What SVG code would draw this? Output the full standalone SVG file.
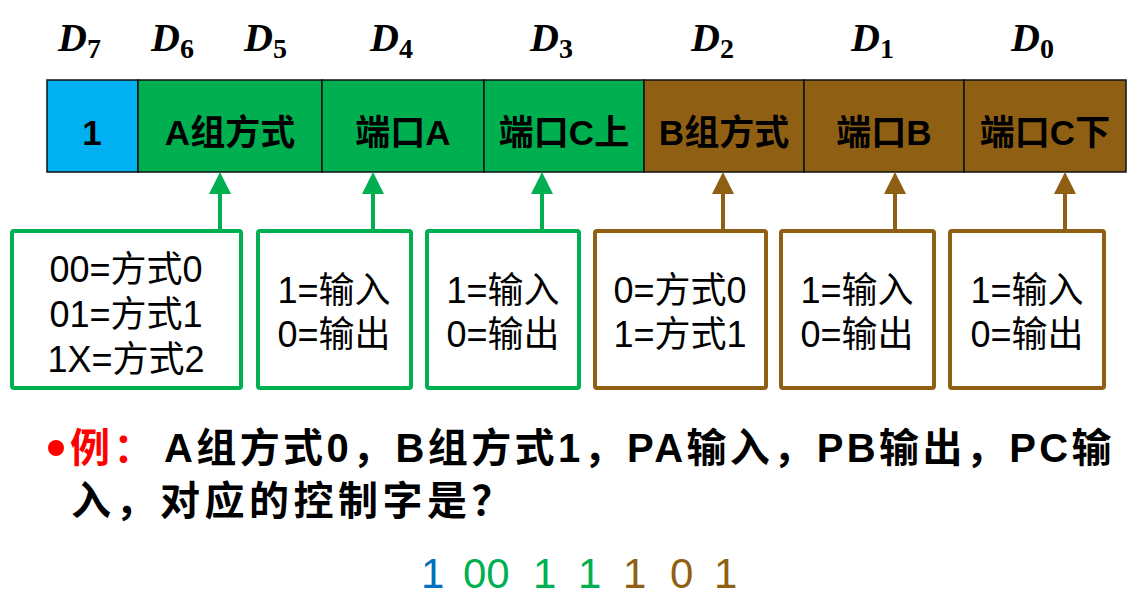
<svg xmlns="http://www.w3.org/2000/svg" width="1143" height="603" viewBox="0 0 1143 603">
<style>
.d{font-family:"Liberation Serif","Noto Serif",serif;font-style:italic;font-weight:bold;font-size:40px;fill:#000}
.ds{font-family:"Liberation Serif",serif;font-style:normal;font-weight:bold;font-size:28px}
.cell{stroke:#111;stroke-width:1.5}
.ct{font-family:"Liberation Sans","Noto Sans CJK SC",sans-serif;font-weight:bold;font-size:35px;fill:#000;text-anchor:middle}
.bx{fill:#fff;stroke-width:4}
.g{stroke:#00B050}
.b{stroke:#8F5F14}
.bt{font-family:"Liberation Sans","Noto Sans CJK SC",sans-serif;font-size:36px;fill:#000;text-anchor:middle}
.q{font-family:"Liberation Sans","Noto Sans CJK SC",sans-serif;font-weight:bold;font-size:40px;fill:#000;letter-spacing:3.4px}
.red{fill:#FF0000}
.n{font-family:"Liberation Sans","Noto Sans CJK SC",sans-serif;font-size:42px}
</style>
<defs>
<marker id="mg" markerUnits="userSpaceOnUse" markerWidth="22" markerHeight="22" viewBox="0 0 22 22" refX="18" refY="11" orient="auto"><path d="M0,0 L22,11 L0,22 z" fill="#00B050"/></marker>
<marker id="mb" markerUnits="userSpaceOnUse" markerWidth="22" markerHeight="22" viewBox="0 0 22 22" refX="18" refY="11" orient="auto"><path d="M0,0 L22,11 L0,22 z" fill="#8F5F14"/></marker>
</defs>
<rect width="1143" height="603" fill="#fff"/>
<g id="bit-labels">
<text class="d" x="58" y="51">D<tspan class="ds" dy="7">7</tspan></text>
<text class="d" x="151" y="51">D<tspan class="ds" dy="7">6</tspan></text>
<text class="d" x="244" y="51">D<tspan class="ds" dy="7">5</tspan></text>
<text class="d" x="370" y="51">D<tspan class="ds" dy="7">4</tspan></text>
<text class="d" x="530" y="51">D<tspan class="ds" dy="7">3</tspan></text>
<text class="d" x="691" y="51">D<tspan class="ds" dy="7">2</tspan></text>
<text class="d" x="851" y="51">D<tspan class="ds" dy="7">1</tspan></text>
<text class="d" x="1011" y="51">D<tspan class="ds" dy="7">0</tspan></text>
</g>
<g id="cell-d7"><rect class="cell" x="47" y="80" width="91" height="92" fill="#00B0F0"/><text class="ct" x="92" y="145">1</text></g>
<g id="cell-a-mode"><rect class="cell" x="138" y="80" width="184" height="92" fill="#00B050"/><text class="ct" x="230" y="145">A组方式</text></g>
<g id="cell-port-a"><rect class="cell" x="322" y="80" width="162" height="92" fill="#00B050"/><text class="ct" x="403" y="145">端口A</text></g>
<g id="cell-port-c-upper"><rect class="cell" x="484" y="80" width="160" height="92" fill="#00B050"/><text class="ct" x="564" y="145">端口C上</text></g>
<g id="cell-b-mode"><rect class="cell" x="644" y="80" width="160" height="92" fill="#8F5F14"/><text class="ct" x="724" y="145">B组方式</text></g>
<g id="cell-port-b"><rect class="cell" x="804" y="80" width="160" height="92" fill="#8F5F14"/><text class="ct" x="884" y="145">端口B</text></g>
<g id="cell-port-c-lower"><rect class="cell" x="964" y="80" width="162" height="92" fill="#8F5F14"/><text class="ct" x="1045" y="145">端口C下</text></g>
<g id="connectors" stroke-width="4" fill="none">
<line class="g" x1="220" y1="230" x2="220" y2="176" marker-end="url(#mg)"/>
<line class="g" x1="373" y1="230" x2="373" y2="176" marker-end="url(#mg)"/>
<line class="g" x1="542" y1="230" x2="542" y2="176" marker-end="url(#mg)"/>
<line class="b" x1="723" y1="230" x2="723" y2="176" marker-end="url(#mb)"/>
<line class="b" x1="895" y1="230" x2="895" y2="176" marker-end="url(#mb)"/>
<line class="b" x1="1065" y1="230" x2="1065" y2="176" marker-end="url(#mb)"/>
</g>
<g id="box-a-mode"><rect class="bx g" x="12" y="231" width="229" height="157" rx="2"/>
<text class="bt" x="126" y="282">00=方式0</text><text class="bt" x="126" y="327">01=方式1</text><text class="bt" x="126" y="372">1X=方式2</text></g>
<g id="box-port-a"><rect class="bx g" x="258" y="231" width="153" height="157" rx="2"/>
<text class="bt" x="334" y="303">1=输入</text><text class="bt" x="334" y="347">0=输出</text></g>
<g id="box-port-c-upper"><rect class="bx g" x="427" y="231" width="152" height="157" rx="2"/>
<text class="bt" x="503" y="303">1=输入</text><text class="bt" x="503" y="347">0=输出</text></g>
<g id="box-b-mode"><rect class="bx b" x="595" y="231" width="171" height="157" rx="2"/>
<text class="bt" x="680" y="303">0=方式0</text><text class="bt" x="680" y="347">1=方式1</text></g>
<g id="box-port-b"><rect class="bx b" x="781" y="231" width="153" height="157" rx="2"/>
<text class="bt" x="857" y="303">1=输入</text><text class="bt" x="857" y="347">0=输出</text></g>
<g id="box-port-c-lower"><rect class="bx b" x="950" y="231" width="154" height="157" rx="2"/>
<text class="bt" x="1027" y="303">1=输入</text><text class="bt" x="1027" y="347">0=输出</text></g>
<g id="question">
<circle cx="56" cy="448" r="8" fill="#FF0000"/>
<text class="q red" x="70" y="462">例：</text>
<text class="q" x="164" y="462">A组方式0，B组方式1，PA输入，PB输出，PC输</text>
<text class="q" x="71" y="515" style="letter-spacing:4.5px">入，对应的控制字是？</text>
</g>
<g id="answer" class="n">
<text x="421" y="588" fill="#0070C0">1</text>
<text x="463" y="588" fill="#00B050">00</text>
<text x="533" y="588" fill="#00B050">1</text>
<text x="578" y="588" fill="#00B050">1</text>
<text x="623" y="588" fill="#8F5F14">1</text>
<text x="670" y="588" fill="#8F5F14">0</text>
<text x="714" y="588" fill="#8F5F14">1</text>
</g>
</svg>
